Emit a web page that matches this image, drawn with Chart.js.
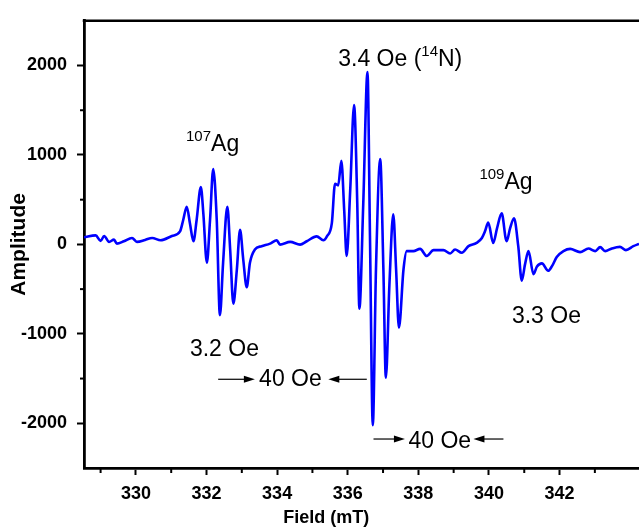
<!DOCTYPE html>
<html>
<head>
<meta charset="utf-8">
<script src="https://cdn.jsdelivr.net/npm/chart.js@4.4.1/dist/chart.umd.min.js"></script>
<style>
  html, body { margin: 0; padding: 0; background: #fff; overflow: hidden; }
</style>
</head>
<body>
<canvas id="myChart" width="639" height="530"></canvas>
<script>
// EPR spectrum: field (mT) and amplitude
const fieldValues = [
  328.53, 328.86, 329.00, 329.10, 329.24, 329.38, 329.46, 329.66, 329.89, 330.03,
  330.26, 330.46, 330.70, 331.02, 331.25, 331.34, 331.44, 331.53, 331.63, 331.72,
  331.84, 331.91, 332.01, 332.10, 332.19, 332.29, 332.38, 332.47, 332.59, 332.67,
  332.76, 332.86, 332.95, 333.04, 333.14, 333.23, 333.37, 333.56, 333.80, 333.99,
  334.08, 334.37, 334.65, 334.84, 335.12, 335.31, 335.41, 335.55, 335.64, 335.73,
  335.82, 335.90, 335.97, 336.07, 336.18, 336.27, 336.33, 336.44, 336.56, 336.63,
  336.71, 336.80, 336.92, 337.01, 337.08, 337.18, 337.29, 337.37, 337.45, 337.58,
  337.67, 337.86, 338.05, 338.24, 338.43, 338.71, 338.90, 339.04, 339.23, 339.42,
  339.65, 339.80, 339.89, 339.98, 340.12, 340.23, 340.36, 340.50, 340.60, 340.71,
  340.83, 340.93, 341.02, 341.12, 341.26, 341.36, 341.50, 341.68, 341.79, 341.92,
  342.11, 342.30, 342.58, 342.82, 343.01, 343.15, 343.29, 343.48, 343.71, 343.88,
  344.09, 344.25
];
const amplitudeValues = [
  79, 101, 39, 94, 28, 53, 9, 35, 72, 28,
  50, 72, 46, 94, 145, 273, 421, 237, 35, 273,
  641, 347, -204, 273, 843, 273, -791, -204, 421, -57,
  -663, -278, 163, -167, -479, -204, -57, -20, 9, 46,
  -2, 28, -2, 35, 90, 46, 90, 237, 678, 659,
  934, 383, -130, 604, 1559, 457, -718, 457, 1926, 94,
  -2022, -278, 953, -278, -1490, -457, 336, -278, -931, -278,
  -75, -75, -50, -130, -64, -64, -101, -57, -94, -20,
  17, 72, 149, 245, 17, 182, 347, 35, 182, 292,
  -20, -406, -226, -75, -333, -248, -212, -295, -240, -141,
  -75, -50, -86, -46, -75, -31, -75, -46, -28, -64,
  -20, 6
];

const xMajorTicks = [330, 332, 334, 336, 338, 340, 342];
const xMinorTicks = [329, 331, 333, 335, 337, 339, 341, 343];
const yMajorTicks = [-2000, -1000, 0, 1000, 2000];
const yMinorTicks = [-1500, -500, 500, 1500];

// text notes on the plot, anchored in data units
const notes = [
  { x: 331.42, y: 1047, parts: [{ t: '107', sup: true }, { t: 'Ag' }] },
  { x: 335.73, y: 2000, parts: [{ t: '3.4 Oe (' }, { t: '14', sup: true }, { t: 'N)' }] },
  { x: 339.73, y: 623, parts: [{ t: '109', sup: true }, { t: 'Ag' }] },
  { x: 331.53, y: -1251, parts: [{ t: '3.2 Oe' }] },
  { x: 340.65, y: -884, parts: [{ t: '3.3 Oe' }] },
  { x: 333.49, y: -1581, parts: [{ t: '40 Oe' }] },
  { x: 337.72, y: -2279, parts: [{ t: '40 Oe' }] }
];
// arrows: tail -> tip, at one amplitude level
const arrows = [
  { from: 332.33, to: 333.37, y: -1508 },
  { from: 336.54, to: 335.45, y: -1508 },
  { from: 336.73, to: 337.62, y: -2176 },
  { from: 340.41, to: 339.56, y: -2176 }
];

const FONT = '"Liberation Sans", Arial, sans-serif';
const xTitle = 'Field (mT)';
const xTitleCenter = 335.39; // the title sits left of the axis middle, as in the figure

const decor = {
  id: 'decor',
  afterDraw(chart) {
    const ctx = chart.ctx;
    const xs = chart.scales.x, ys = chart.scales.y;
    const a = chart.chartArea;
    ctx.save();
    ctx.strokeStyle = '#000';
    ctx.fillStyle = '#000';

    // top frame
    ctx.lineWidth = 2.5;
    ctx.beginPath();
    ctx.moveTo(a.left - 1.25, a.top);
    ctx.lineTo(a.right, a.top);
    ctx.stroke();

    // minor ticks
    ctx.lineWidth = 2;
    xMinorTicks.forEach(v => {
      const px = xs.getPixelForValue(v);
      ctx.beginPath();
      ctx.moveTo(px, a.bottom);
      ctx.lineTo(px, a.bottom + 5);
      ctx.stroke();
    });
    yMinorTicks.forEach(v => {
      const py = ys.getPixelForValue(v);
      ctx.beginPath();
      ctx.moveTo(a.left, py);
      ctx.lineTo(a.left - 4, py);
      ctx.stroke();
    });

    // x axis title
    ctx.font = 'bold 18px ' + FONT;
    ctx.textAlign = 'center';
    ctx.textBaseline = 'middle';
    ctx.fillText(xTitle, xs.getPixelForValue(xTitleCenter), chart.height - 12);

    // notes
    ctx.textAlign = 'left';
    ctx.textBaseline = 'alphabetic';
    notes.forEach(n => {
      let cx = xs.getPixelForValue(n.x);
      const cy = ys.getPixelForValue(n.y);
      n.parts.forEach(p => {
        ctx.font = (p.sup ? '15px ' : '23px ') + FONT;
        ctx.fillText(p.t, cx, p.sup ? cy - 10 : cy);
        cx += ctx.measureText(p.t).width;
      });
    });

    // arrows
    ctx.lineWidth = 1.2;
    arrows.forEach(ar => {
      const x0 = xs.getPixelForValue(ar.from);
      const x1 = xs.getPixelForValue(ar.to);
      const y = ys.getPixelForValue(ar.y);
      const dir = x1 > x0 ? 1 : -1;
      ctx.beginPath();
      ctx.moveTo(x0, y);
      ctx.lineTo(x1 - dir * 8, y);
      ctx.stroke();
      ctx.beginPath();
      ctx.moveTo(x1, y);
      ctx.lineTo(x1 - dir * 11, y - 3.5);
      ctx.lineTo(x1 - dir * 11, y + 3.5);
      ctx.closePath();
      ctx.fill();
    });
    ctx.restore();
  }
};

const points = fieldValues.map((f, i) => ({ x: f, y: amplitudeValues[i] }));

new Chart(document.getElementById('myChart'), {
  type: 'line',
  data: {
    datasets: [{
      data: points,
      borderColor: '#0000ff',
      borderWidth: 2.6,
      pointRadius: 0,
      fill: false,
      cubicInterpolationMode: 'monotone'
    }]
  },
  options: {
    responsive: false,
    animation: false,
    layout: { padding: { top: 15, right: 0, bottom: 0, left: 0 } },
    plugins: { legend: { display: false }, tooltip: { enabled: false } },
    scales: {
      x: {
        type: 'linear',
        min: 328.53,
        max: 344.25,
        afterBuildTicks: s => { s.ticks = xMajorTicks.map(v => ({ value: v })); },
        afterFit: s => { s.height = 62; },
        ticks: {
          color: '#000',
          font: { family: FONT, size: 18, weight: 'bold' },
          padding: 8,
          maxRotation: 0,
          autoSkip: false,
          callback: v => String(v)
        },
        grid: { drawOnChartArea: false, drawTicks: true, tickLength: 7, tickWidth: 2, tickColor: '#000' },
        border: { display: true, color: '#000', width: 2.8 }
      },
      y: {
        type: 'linear',
        min: -2500,
        max: 2500,
        afterBuildTicks: s => { s.ticks = yMajorTicks.map(v => ({ value: v })); },
        afterFit: s => { s.width = 84; },
        ticks: {
          color: '#000',
          font: { family: FONT, size: 18, weight: 'bold' },
          padding: 10,
          autoSkip: false,
          callback: v => String(v)
        },
        grid: { drawOnChartArea: false, drawTicks: true, tickLength: 7, tickWidth: 2, tickColor: '#000' },
        border: { display: true, color: '#000', width: 2.8 },
        title: {
          display: true,
          text: 'Amplitude',
          color: '#000',
          font: { family: FONT, size: 21, weight: 'bold' },
          padding: { top: 7, bottom: 0 }
        }
      }
    }
  },
  plugins: [decor]
});
</script>
</body>
</html>
